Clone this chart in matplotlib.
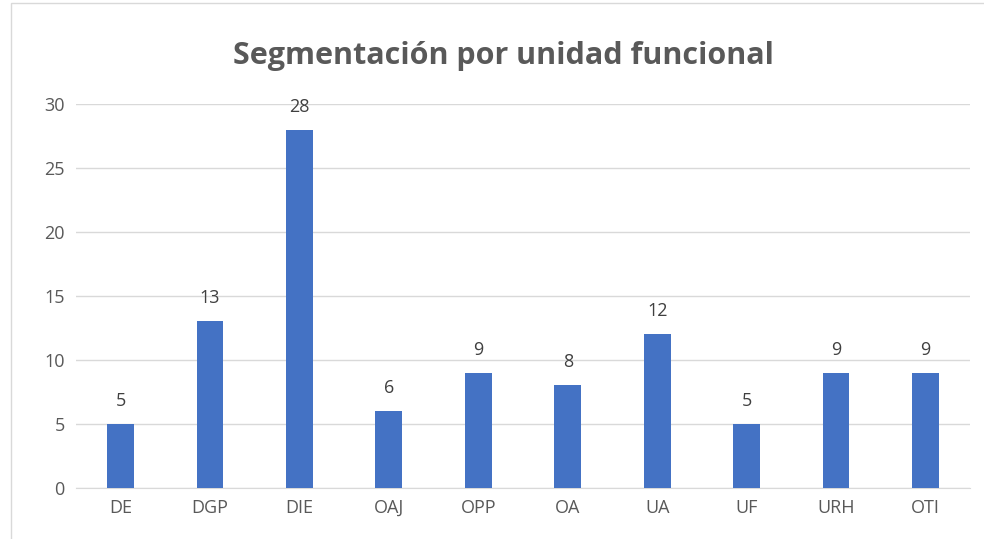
import matplotlib.pyplot as plt

# Datos
unidades = ['DE', 'DGP', 'DIE', 'OAJ', 'OPP', 'OA', 'UA', 'UF', 'URH', 'OTI']
valores = [5, 13, 28, 6, 9, 8, 12, 5, 9, 9]

plt.rcParams['font.family'] = ['Open Sans', 'DejaVu Sans']

fig = plt.figure(figsize=(9.84, 5.39), dpi=100)
ax = fig.add_axes([0.077, 0.095, 0.909, 0.712])

x = range(len(unidades))
barras = ax.bar(x, valores, width=0.3, color='#4472C4', zorder=3)
for xi, v in zip(x, valores):
    ax.text(xi, v + 1.1, str(v), ha='center', va='bottom', fontsize=13, color='#404040')

ax.set_xlim(-0.5, len(unidades) - 0.5)
ax.set_ylim(0, 30)
ax.set_yticks(range(0, 31, 5))
ax.set_xticks(list(x))
ax.set_xticklabels(unidades)
ax.tick_params(axis='both', length=0, labelsize=13, labelcolor='#595959', pad=8)
ax.grid(axis='y', color='#D9D9D9', linewidth=1, zorder=0)
for lado in ['top', 'right', 'left']:
    ax.spines[lado].set_visible(False)
ax.spines['bottom'].set_color('#D9D9D9')

fig.text(0.512, 0.897, 'Segmentación por unidad funcional', ha='center', va='center',
         fontsize=22, fontweight='bold', color='#595959')

# borde del gráfico
fig.patches.append(plt.Rectangle((0.011, -0.01), 0.99, 1.005, transform=fig.transFigure,
                                 fill=False, edgecolor='#D9D9D9', linewidth=1))

fig.savefig('out.png', dpi=100)
